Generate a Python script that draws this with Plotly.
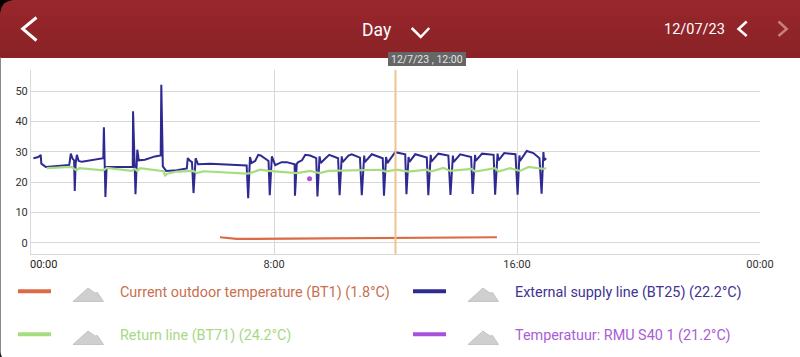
import plotly.graph_objects as go

# ---- data (hours since midnight, degrees C) ----
supply_hours = [0.08,0.24,0.32,0.34,0.49,1.26,1.31,1.37,1.42,1.44,1.47,1.51,1.57,1.68,2.38,2.40,2.45,2.49,3.35,3.36,3.44,3.48,3.50,3.55,3.75,4.08,4.27,4.29,4.34,4.45,4.80,5.13,5.16,5.24,5.30,5.35,5.39,5.42,5.50,5.90,7.10,7.15,7.21,7.26,7.38,7.48,7.56,7.82,7.86,7.93,8.04,8.25,8.42,8.68,8.69,8.75,8.80,8.92,9.03,9.19,9.39,9.43,9.50,9.54,9.68,9.82,10.11,10.16,10.23,10.26,10.45,10.56,10.83,10.89,10.97,10.99,11.22,11.58,11.62,11.69,11.73,11.99,12.32,12.36,12.43,12.46,12.65,13.03,13.08,13.16,13.18,13.41,13.74,13.81,13.89,13.91,14.13,14.49,14.54,14.62,14.64,14.85,15.23,15.28,15.36,15.39,15.58,15.95,16.02,16.08,16.10,16.32,16.54,16.74,16.81,16.87,16.89,16.96]
supply_vals = [27.9,28.3,29.0,26.1,25.0,25.7,29.4,27.7,27.2,17.1,26.1,29.0,27.0,26.7,27.9,38.1,15.1,25.0,25.0,43.4,16.0,25.5,30.7,27.2,27.4,28.5,28.8,52.1,25.2,23.7,23.9,24.5,27.9,27.0,26.6,16.4,25.0,27.9,25.9,26.1,25.5,14.7,28.3,26.3,27.0,29.0,28.8,27.0,15.7,28.5,25.6,26.6,26.6,25.9,15.5,26.1,26.6,27.2,29.0,28.8,27.9,15.3,28.5,26.3,27.7,29.0,27.9,15.7,28.5,26.6,28.8,29.2,28.1,15.7,28.8,26.6,29.2,27.9,15.5,28.3,26.3,29.9,29.2,16.0,28.3,26.7,29.2,28.1,15.7,29.0,26.8,29.4,28.8,15.8,28.8,26.6,29.2,28.3,16.1,29.0,27.0,29.4,29.0,15.9,29.4,27.2,29.6,29.2,15.9,28.8,27.0,30.3,29.6,27.9,16.2,29.9,27.2,27.9]

return_hours = [0.52,1.34,1.50,1.59,2.38,2.50,3.31,3.42,3.50,3.59,4.36,4.42,4.49,4.80,5.35,5.46,5.68,7.10,7.21,7.54,7.82,8.20,8.75,9.19,9.50,9.79,11.50,11.66,12.04,12.43,13.03,13.16,13.58,13.80,14.51,14.62,15.28,15.39,15.77,16.10,16.38,16.87,16.96]
return_vals = [24.6,25.0,23.9,24.6,23.9,24.7,23.7,24.4,23.7,24.6,23.6,22.2,22.8,23.5,23.7,23.0,23.6,22.8,23.0,24.1,23.7,23.5,23.0,23.7,23.0,23.7,24.1,23.5,24.1,23.5,24.1,23.5,24.7,23.7,24.4,23.5,24.6,23.5,24.6,23.7,25.0,24.4,24.6]

outdoor_hours = [6.22,6.77,8.53,11.99,15.34]
outdoor_vals = [1.82,1.27,1.38,1.49,1.82]

rmu_hours = [9.17]
rmu_vals = [21.1]

y_ticks = [0,10,20,30,40,50]
x_ticks = [0,8,16,24]
x_tick_labels = ["","8:00","16:00","00:00"]
first_x_label = "00:00"
cursor_hour = 12
tooltip_text = "12/7/23 , 12:00"
period_text = "Day"
date_text = "12/07/23"

legend_names = ["Current outdoor temperature (BT1) (1.8°C)","External supply line (BT25) (22.2°C)",
                "Return line (BT71) (24.2°C)","Temperatuur: RMU S40 1 (21.2°C)"]

# ---- styles ----
ORANGE, BLUE, GREEN, PURPLE = "#DC6A44", "#2E2A92", "#A6DD80", "#A94FDC"
TXT = {"o":"#C96F50","b":"#3F3592","g":"#A8D884","p":"#A95DD6"}
GRID = "#D8D8D8"
FONT = "Roboto"
W, H = 800, 357
L, R, T, B = 31, 760, 70, 254

def px(x): return (x - L) / (R - L)
def py(y): return (B - y) / (B - T)

shapes, ann = [], []

def text(x, y, s, size, color, anchor="left"):
    ann.append(dict(x=px(x), y=py(y), xref="paper", yref="paper", text=s, showarrow=False,
                    xanchor=anchor, yanchor="middle", font=dict(family=FONT, size=size, color=color),
                    borderpad=0, borderwidth=0))

def path(pts, close=False, **kw):
    d = "M" + " L".join(f"{px(a):.5f},{py(b):.5f}" for a, b in pts) + (" Z" if close else "")
    shapes.append(dict(type="path", path=d, xref="paper", yref="paper", layer="above", **kw))

def rect(x0, y0, x1, y1, color):
    shapes.append(dict(type="rect", x0=px(x0), x1=px(x1), y0=py(y0), y1=py(y1), xref="paper", yref="paper",
                       fillcolor=color, line=dict(width=0), layer="above"))

# header: one base rect, then fine bands for the vertical gradient
rect(0, 0, W, 57.5, "#98272C")
top, bottom = (0x98, 0x27, 0x2C), (0x8A, 0x22, 0x26)
n = 19
for i in range(1, n):
    c = "#%02X%02X%02X" % tuple(round(a + (b - a) * i / (n - 1)) for a, b in zip(top, bottom))
    rect(0, i * 3, W, 57.5, c)
# window corner and edge
path([(0,0),(13,0),(8,1.2),(4,3.6),(1.5,7.5),(0,13)], True, fillcolor="#000000", line=dict(width=0))
rect(0, 57.5, 1, H, "#8A8A8A")
path([(0,352),(2,357),(0,357)], True, fillcolor="#222222", line=dict(width=0))
chev = dict(color="#FFFFFF", width=3)
path([(36.5,17.5),(22.7,28.8),(36.5,40.5)], line=chev)
path([(411.7,28),(420.7,37),(429.3,28)], line=dict(color="#FFFFFF", width=2.5))
path([(746.7,21.5),(738.5,29),(746.7,36)], line=dict(color="#FFFFFF", width=2.5))
path([(778.5,21.5),(786.7,29),(778.5,36)], line=dict(color="#C77F80", width=2.5))
text(377, 30, period_text, 17.5, "#FFFFFF", "center")
text(694.5, 29, date_text, 14.5, "#FFFFFF", "center")

# cursor + tooltip
shapes.append(dict(type="line", x0=cursor_hour, x1=cursor_hour, y0=0, y1=1, xref="x", yref="paper",
                   line=dict(color="#EFC48C", width=2), layer="above"))
rect(388, 52, 466, 66, "#666666")
text(427, 59, tooltip_text, 10.5, "#E4E4E4", "center")
text(43.5, 264, first_x_label, 11, "#222222", "center")

# legend
ys = [292, 335]
for (x0, x1, c, tc, icon_dx, tx, name, y) in [
    (18, 51, ORANGE, TXT["o"], 0, 119.5, legend_names[0], ys[0]),
    (413, 446, BLUE, TXT["b"], 395, 514.5, legend_names[1], ys[0]),
    (18, 51, GREEN, TXT["g"], 0, 119.5, legend_names[2], ys[1]),
    (413, 446, PURPLE, TXT["p"], 395, 514.5, legend_names[3], ys[1]),
]:
    path([(x0, y-0.8), (x1, y-0.8)], line=dict(color=c, width=4))
    path([(73+icon_dx,y+9.5),(88+icon_dx,y-4),(95+icon_dx,y+1),(97.5+icon_dx,y+0.5),(103.5+icon_dx,y+9.5)],
         True, fillcolor="#CFCFCF", line=dict(color="#BDBDBD", width=0.8))
    text(tx, y, name, 14.4, tc)

fig = go.Figure()
fig.add_trace(go.Scatter(x=outdoor_hours, y=outdoor_vals, mode="lines", line=dict(color=ORANGE, width=2.2)))
fig.add_trace(go.Scatter(x=supply_hours, y=supply_vals, mode="lines", line=dict(color=BLUE, width=2)))
fig.add_trace(go.Scatter(x=return_hours, y=return_vals, mode="lines", line=dict(color=GREEN, width=2.2)))
fig.add_trace(go.Scatter(x=rmu_hours, y=rmu_vals, mode="markers", marker=dict(color=PURPLE, size=5)))

axis = dict(showgrid=True, gridcolor=GRID, gridwidth=1, zeroline=False, showline=True, linecolor=GRID, linewidth=1,
            ticks="", tickfont=dict(family=FONT, size=11, color="#333333"))
fig.update_layout(
    width=W, height=H, autosize=False, showlegend=False,
    margin=dict(l=L, r=W-R, t=T, b=H-B, pad=0),
    paper_bgcolor="#FFFFFF", plot_bgcolor="#FFFFFF",
    xaxis=dict(axis, range=[0,24], tickmode="array", tickvals=x_ticks, ticktext=x_tick_labels),
    yaxis=dict(axis, range=[-3.7,57], tickmode="array", tickvals=y_ticks),
    shapes=shapes, annotations=ann,
)
fig.write_html("out.html", config=dict(displayModeBar=False),
               post_script="document.body.style.margin='0';document.documentElement.style.overflow='hidden';")
